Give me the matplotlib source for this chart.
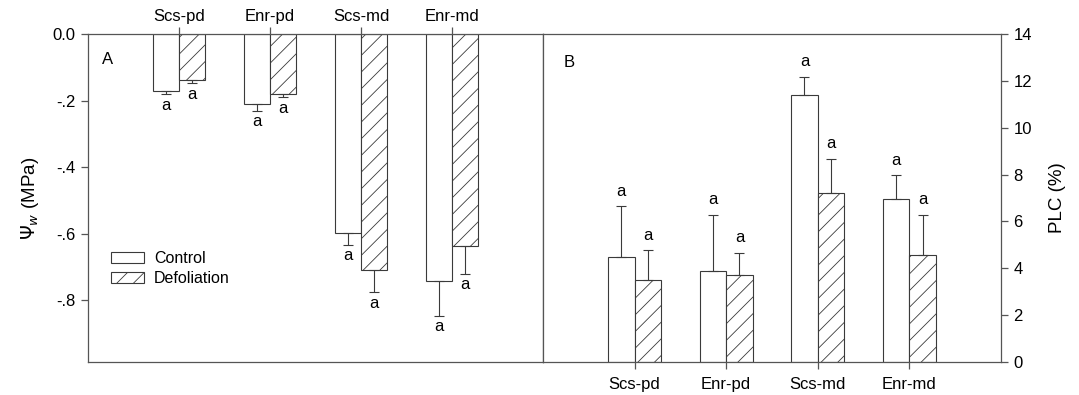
import numpy as np
import matplotlib
matplotlib.use('Agg')
import matplotlib.pyplot as plt

plt.rcParams['font.family'] = ['Liberation Sans', 'DejaVu Sans']
plt.rcParams['hatch.linewidth'] = 0.6
plt.rcParams['hatch.color'] = '#444444'

# data
sites = ['Scs-pd', 'Enr-pd', 'Scs-md', 'Enr-md']
psi_control = [-0.171, -0.211, -0.597, -0.743]
psi_control_se = [0.010, 0.019, 0.036, 0.103]
psi_defol = [-0.138, -0.180, -0.710, -0.636]
psi_defol_se = [0.010, 0.010, 0.066, 0.084]
plc_control = [4.47, 3.87, 11.39, 6.97]
plc_control_se = [2.19, 2.42, 0.79, 1.00]
plc_defol = [3.51, 3.70, 7.23, 4.55]
plc_defol_se = [1.26, 0.97, 1.45, 1.74]
letters_control = ['a', 'a', 'a', 'a']
letters_defol = ['a', 'a', 'a', 'a']

ec = '#3a3a3a'
w = 0.29
x = np.arange(1, 5)

fig = plt.figure(figsize=(10.79, 3.95), dpi=100)
axA = fig.add_axes([0.0816, 0.0835, 0.4216, 0.8304])
axB = fig.add_axes([0.5032, 0.0835, 0.4245, 0.8304])

ebkw = dict(ecolor=ec, elinewidth=0.8, capsize=3.5, capthick=0.8)
zeros = np.zeros(4)

# panel A
axA.bar(x - w / 2, psi_control, w, color='white', edgecolor=ec, linewidth=0.8,
        yerr=[psi_control_se, zeros], error_kw=ebkw, label='Control')
axA.bar(x + w / 2, psi_defol, w, color='white', edgecolor=ec, linewidth=0.8, hatch='//',
        yerr=[psi_defol_se, zeros], error_kw=ebkw, label='Defoliation')
for i in range(4):
    axA.annotate(letters_control[i], (x[i] - w / 2, psi_control[i] - psi_control_se[i]),
                 xytext=(0, -11), textcoords='offset points', ha='center', va='baseline', fontsize=12)
    axA.annotate(letters_defol[i], (x[i] + w / 2, psi_defol[i] - psi_defol_se[i]),
                 xytext=(0, -11), textcoords='offset points', ha='center', va='baseline', fontsize=12)

axA.set_xlim(0, 5)
axA.set_ylim(-0.985, 0)
axA.set_yticks([0, -0.2, -0.4, -0.6, -0.8])
axA.set_yticklabels(['0.0', '-.2', '-.4', '-.6', '-.8'])
axA.xaxis.tick_top()
axA.set_xticks(x)
axA.set_xticklabels(sites)
axA.set_ylabel(r'$\Psi_w$ (MPa)', fontsize=13.5, labelpad=8)
axA.text(0.03, 0.91, 'A', transform=axA.transAxes, fontsize=12)
axA.legend(loc='upper left', bbox_to_anchor=(0.05, 0.338), frameon=False, fontsize=11.5,
           handlelength=2.1, handleheight=0.65, handletextpad=0.6, labelspacing=0.3,
           borderpad=0, borderaxespad=0)

# panel B
axB.bar(x - w / 2, plc_control, w, color='white', edgecolor=ec, linewidth=0.8,
        yerr=[zeros, plc_control_se], error_kw=ebkw)
axB.bar(x + w / 2, plc_defol, w, color='white', edgecolor=ec, linewidth=0.8, hatch='//',
        yerr=[zeros, plc_defol_se], error_kw=ebkw)
for i in range(4):
    axB.annotate(letters_control[i], (x[i] - w / 2, plc_control[i] + plc_control_se[i]),
                 xytext=(0, 7.5), textcoords='offset points', ha='center', va='baseline', fontsize=12)
    axB.annotate(letters_defol[i], (x[i] + w / 2, plc_defol[i] + plc_defol_se[i]),
                 xytext=(0, 7.5), textcoords='offset points', ha='center', va='baseline', fontsize=12)

axB.set_xlim(0, 5)
axB.set_ylim(0, 14)
axB.set_yticks(range(0, 15, 2))
axB.yaxis.tick_right()
axB.yaxis.set_label_position('right')
axB.set_ylabel('PLC (%)', fontsize=13.5, labelpad=12)
axB.set_xticks(x)
axB.set_xticklabels(sites)
axB.text(0.045, 0.9, 'B', transform=axB.transAxes, fontsize=12)

for ax in (axA, axB):
    for s in ax.spines.values():
        s.set_color('#555555')
        s.set_linewidth(0.9)
    ax.tick_params(direction='out', length=5, width=0.9, color='#555555', labelsize=12, pad=4)
axA.tick_params(axis='x', labelsize=12, pad=2)
axB.tick_params(axis='x', labelsize=12, pad=6)

fig.savefig('out.png', dpi=100)
